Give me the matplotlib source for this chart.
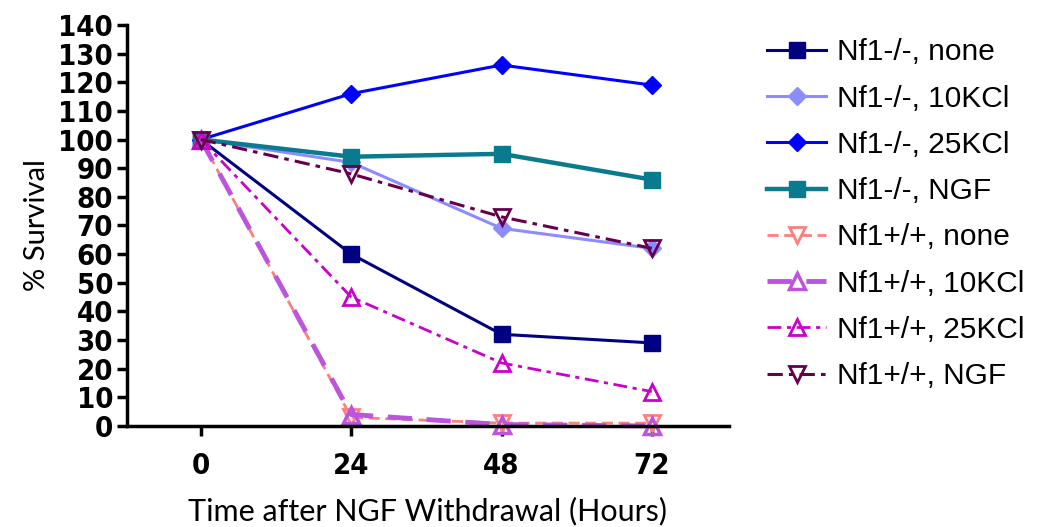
import matplotlib.pyplot as plt
import numpy as np

hours = [0, 24, 48, 72]
ko_none = [100, 60, 32, 29]
ko_10kcl = [100, 92, 69, 62]
ko_25kcl = [100, 116, 126, 119]
ko_ngf = [100, 94, 95, 86]
wt_none = [100, 3, 1, 1]
wt_10kcl = [100, 4, 0.5, 0]
wt_25kcl = [100, 45, 22, 12]
wt_ngf = [100, 88, 73, 62]

labels = ["Nf1-/-, none", "Nf1-/-, 10KCl", "Nf1-/-, 25KCl", "Nf1-/-, NGF",
          "Nf1+/+, none", "Nf1+/+, 10KCl", "Nf1+/+, 25KCl", "Nf1+/+, NGF"]

fig = plt.figure(figsize=(10.45, 5.27), dpi=100)
ax = fig.add_axes([0.1215, 0.1917, 0.576, 0.761])

# knockouts, solid lines
ax.plot(hours, ko_none, color="#000080", lw=2.2, marker="s", ms=11, label=labels[0])
ax.plot(hours, ko_10kcl, color="#8C8CFF", lw=2.2, marker="D", ms=9, label=labels[1])
ax.plot(hours, ko_25kcl, color="#0000FF", lw=2.2, marker="D", ms=9, label=labels[2])
ax.plot(hours, ko_ngf, color="#0A7B8F", lw=3.2, marker="s", ms=11, label=labels[3])
# wild type, dashed
ax.plot(hours, wt_none, color="#FF7F7F", lw=2, ls=(0, (4, 2)), marker="v", ms=12,
        mfc="none", mew=2, label=labels[4])
ax.plot(hours, wt_10kcl, color="#BB55DD", lw=3.5, ls=(0, (5, 3)), marker="^", ms=12,
        mfc="none", mew=2.5, label=labels[5])
ax.plot(hours, wt_25kcl, color="#CC00CC", lw=2, ls=(0, (5, 2, 1.5, 2)), marker="^", ms=12,
        mfc="none", mew=2, label=labels[6])
ax.plot(hours, wt_ngf, color="#66004D", lw=2.2, ls=(0, (5, 2, 1.5, 2)), marker="v", ms=12,
        mfc="none", mew=2, label=labels[7])

ax.set_xlim(-11.8, 84.3)
ax.set_ylim(0, 140)
ax.set_xticks(hours)
ax.set_yticks(np.arange(0, 141, 10))
for s in ["top", "right"]:
    ax.spines[s].set_visible(False)
for s in ["left", "bottom"]:
    ax.spines[s].set_linewidth(2.5)
ax.tick_params(width=2.5, length=7, direction="out")
ax.tick_params(axis="y", pad=3)
ax.tick_params(axis="x", pad=12)
for t in ax.get_xticklabels() + ax.get_yticklabels():
    t.set_fontweight("bold")
    t.set_fontfamily("DejaVu Sans")
    t.set_fontstretch("condensed")
    t.set_fontsize(21)

ax.set_ylabel("% Survival", fontsize=21, family=["Lato", "DejaVu Sans"], labelpad=6)
ax.set_xlabel("Time after NGF Withdrawal (Hours)", fontsize=22, family=["Lato", "DejaVu Sans"],
              labelpad=12)
for ln in ax.lines:
    ln.set_clip_on(False)

fig.legend(loc="upper left", bbox_to_anchor=(0.708, 0.978), frameon=False,
           handlelength=2.0, labelspacing=0.61, handletextpad=0.35,
           prop={"family": ["Liberation Sans", "DejaVu Sans"], "size": 21.5})

fig.savefig("out.png", dpi=100)
